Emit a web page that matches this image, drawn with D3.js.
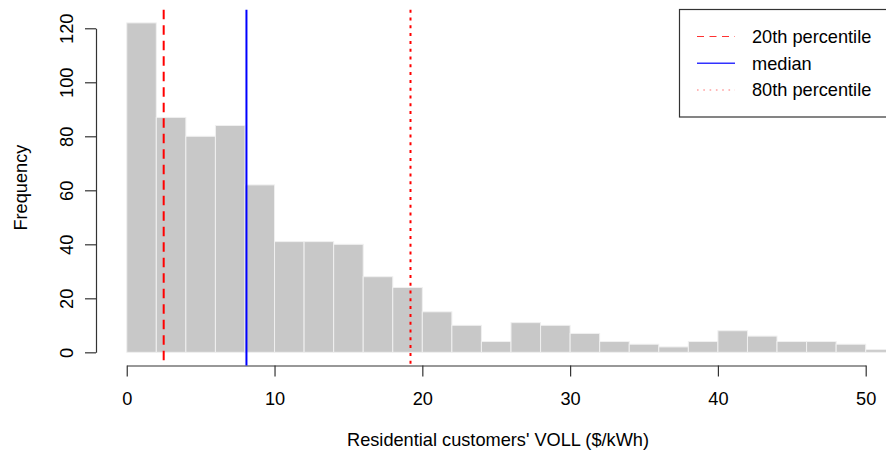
<!DOCTYPE html>
<html><head><meta charset="utf-8">
<script src="https://cdn.jsdelivr.net/npm/d3@7"></script>
<style>
body{margin:0;background:#fff}
svg{display:block}
text{font-family:"Liberation Sans",Arial,Helvetica,sans-serif;fill:#000}
</style>
</head><body>
<svg id="c" width="886" height="453"></svg>
<script>
// ---- data ----
const binLower = [0,2,4,6,8,10,12,14,16,18,20,22,24,26,28,30,32,34,36,38,40,42,44,46,48,50];
const binWidth = 2;
const counts = [122,87,80,84,62,41,41,40,28,24,15,10,4,11,10,7,4,3,2,4,8,6,4,4,3,1];
const xTicks = [0,10,20,30,40,50];
const yTicks = [0,20,40,60,80,100,120];
const refNames = ["20th percentile","median","80th percentile"];
const refValues = [2.5, 8.1, 19.2];
const xLabel = "Residential customers' VOLL ($/kWh)";
const yLabel = "Frequency";

// ---- styles ----
const refStyle = [
  {color:"#ff0000", dash:"9.5,6", width:2, legDash:"7,5.5", legWidth:1.2},
  {color:"#0000ff", dash:null, width:2, legDash:null, legWidth:1.5},
  {color:"#ff0000", dash:"3,4.8", width:2, legDash:"1.6,4.7", legWidth:1.2}
];

const svg = d3.select("#c");
const FS = 18.2;
const plotL = 96, plotR = 926, plotT = 9.7, plotB = 365.5;
const xMaxData = d3.max(binLower) + binWidth;
const yMaxData = d3.max(counts);
const x = d3.scaleLinear().domain([-0.04*xMaxData, xMaxData*1.04]).range([plotL, plotR]);
const y = d3.scaleLinear().domain([-0.04*yMaxData, yMaxData*1.04]).range([plotB, plotT]);

// bars
svg.append("g").selectAll("rect").data(binLower).join("rect")
  .attr("x", (d)=>x(d))
  .attr("width", x(binWidth)-x(0))
  .attr("y", (d,i)=>y(counts[i]))
  .attr("height", (d,i)=>y(0)-y(counts[i]))
  .attr("fill", "#c8c8c8")
  .attr("stroke", "#f0f0f0")
  .attr("stroke-width", 1);

// axes (R style: axis line spans first..last tick)
const xa = d3.scaleLinear().domain([xTicks[0], xTicks[xTicks.length-1]]).range([x(xTicks[0]), x(xTicks[xTicks.length-1])]);
const ya = d3.scaleLinear().domain([yTicks[0], yTicks[yTicks.length-1]]).range([y(yTicks[0]), y(yTicks[yTicks.length-1])]);

const gx = svg.append("g").attr("transform", `translate(0,${plotB})`)
  .call(d3.axisBottom(xa).tickValues(xTicks).tickSize(11).tickSizeOuter(0).tickFormat(d3.format("d")));
gx.selectAll("text").attr("y", 39.5).attr("dy", 0).style("font-size", FS+"px").attr("fill","#000");

const gy = svg.append("g").attr("transform", `translate(${plotL},0)`)
  .call(d3.axisLeft(ya).tickValues(yTicks).tickSize(11).tickSizeOuter(0).tickFormat(d3.format("d")));
gy.selectAll("text").attr("transform","rotate(-90)").attr("x",0).attr("y",-23).attr("dy",0)
  .attr("text-anchor","middle").style("font-size", FS+"px").attr("fill","#000");

[gx, gy].forEach(g=>{
  g.selectAll("path.domain").attr("stroke","#333").attr("stroke-width",1.2);
  g.selectAll("line").attr("stroke","#333").attr("stroke-width",1.2);
});

// reference lines
svg.append("g").selectAll("line").data(refValues).join("line")
  .attr("x1", d=>x(d)).attr("x2", d=>x(d))
  .attr("y1", plotT).attr("y2", plotB)
  .attr("stroke", (d,i)=>refStyle[i].color)
  .attr("stroke-width", (d,i)=>refStyle[i].width)
  .attr("stroke-dasharray", (d,i)=>refStyle[i].dash);

// axis titles
svg.append("text").attr("x", 498).attr("y", 446).attr("text-anchor","middle")
  .style("font-size", FS+"px").text(xLabel);
svg.append("text").attr("transform", `translate(27,${(plotT+plotB)/2}) rotate(-90)`)
  .attr("text-anchor","middle").style("font-size", FS+"px").text(yLabel);

// legend
const lg = svg.append("g");
lg.append("rect").attr("x", 679.5).attr("y", 9.5).attr("width", 240).attr("height", 107.5)
  .attr("fill","#fff").attr("stroke","#333").attr("stroke-width",1.2);
const rowY = [36.5, 63.3, 90];
refNames.forEach((n,i)=>{
  lg.append("line").attr("x1",697).attr("x2",735).attr("y1",rowY[i]).attr("y2",rowY[i])
    .attr("stroke", refStyle[i].color).attr("stroke-width", refStyle[i].legWidth)
    .attr("stroke-dasharray", refStyle[i].legDash)
    .attr("opacity", i===2 ? 0.55 : 0.8);
  lg.append("text").attr("x", 752).attr("y", rowY[i]+6.3).style("font-size", FS+"px").text(n);
});
</script>
</body></html>
